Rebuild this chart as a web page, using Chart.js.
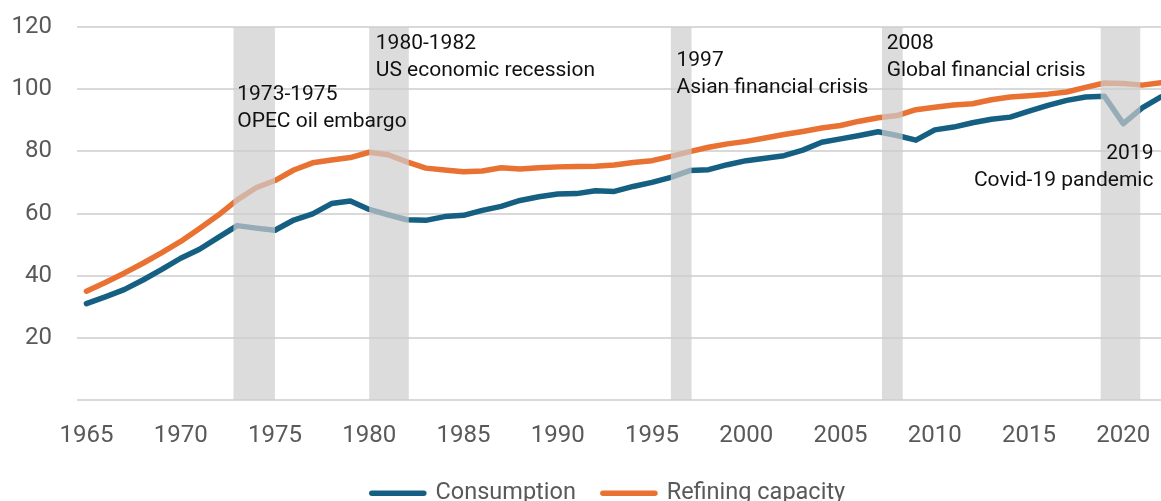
<!DOCTYPE html>
<html lang="en">
<head>
  <meta charset="UTF-8">
  <title>Oil consumption and refining capacity</title>
  <script src="https://cdn.jsdelivr.net/npm/chart.js"></script>
  <style>
    html, body {
      margin: 0;
      padding: 0;
      background: #ffffff;
      overflow: hidden;
    }
    /* a bit taller than the window: the legend is cut at the bottom like in the original */
    .chart-box {
      position: relative;
      width: 1161px;
      height: 515px;
    }
  </style>
</head>
<body>
  <div class="chart-box">
    <canvas id="oilChart"></canvas>
  </div>

  <script>
    // Data
    const years = [
      1965, 1966, 1967, 1968, 1969, 1970, 1971, 1972, 1973, 1974,
      1975, 1976, 1977, 1978, 1979, 1980, 1981, 1982, 1983, 1984,
      1985, 1986, 1987, 1988, 1989, 1990, 1991, 1992, 1993, 1994,
      1995, 1996, 1997, 1998, 1999, 2000, 2001, 2002, 2003, 2004,
      2005, 2006, 2007, 2008, 2009, 2010, 2011, 2012, 2013, 2014,
      2015, 2016, 2017, 2018, 2019, 2020, 2021, 2022
    ];
    const consumption = [
      31.0, 33.2, 35.5, 38.6, 42.0, 45.6, 48.5, 52.3, 56.1, 55.3,
      54.6, 57.9, 59.9, 63.2, 64.0, 61.3, 59.6, 58.0, 57.8, 59.0,
      59.4, 61.0, 62.3, 64.2, 65.4, 66.3, 66.4, 67.3, 67.1, 68.7,
      70.0, 71.6, 73.8, 74.1, 75.7, 77.0, 77.8, 78.6, 80.4, 82.9,
      84.0, 85.1, 86.3, 85.1, 83.6, 86.9, 87.8, 89.2, 90.3, 91.0,
      92.9, 94.8, 96.4, 97.5, 97.7, 88.9, 94.0, 97.5
    ];
    const refining = [
      35.0, 37.8, 40.8, 44.0, 47.4, 51.0, 55.2, 59.5, 64.4, 68.3,
      70.6, 74.0, 76.3, 77.2, 78.0, 79.7, 78.9, 76.6, 74.6, 74.0,
      73.4, 73.7, 74.7, 74.3, 74.7, 75.0, 75.1, 75.2, 75.6, 76.4,
      77.0, 78.4, 79.9, 81.3, 82.4, 83.2, 84.3, 85.4, 86.4, 87.5,
      88.3, 89.7, 90.8, 91.5, 93.4, 94.2, 94.9, 95.3, 96.6, 97.5,
      97.9, 98.4, 99.1, 100.6, 102.0, 101.8, 101.3, 102.1
    ];
    const xTicks = [1965, 1970, 1975, 1980, 1985, 1990, 1995, 2000, 2005, 2010, 2015, 2020];

    // shaded crisis periods (start year, end year) and their captions
    const bandStart = [1972.8, 1980.0, 1996.0, 2007.2, 2018.8];
    const bandEnd   = [1975.0, 1982.1, 1997.1, 2008.3, 2020.9];
    const bandLabels = [
      ['1973-1975', 'OPEC oil embargo'],
      ['1980-1982', 'US economic recession'],
      ['1997', 'Asian financial crisis'],
      ['2008', 'Global financial crisis'],
      ['2019', 'Covid-19 pandemic']
    ];

    const TEAL = '#156082';
    const ORANGE = '#E97132';
    const AXIS_TEXT = '#595959';
    const GRID = '#d9d9d9';

    // where each caption sits (x/y in axis units)
    const captionPos = [
      { x: 1973.0, y: 98.2, align: 'left' },
      { x: 1980.35, y: 114.6, align: 'left' },
      { x: 1996.3, y: 109.1, align: 'left' },
      { x: 2007.45, y: 114.5, align: 'left' },
      { x: 2021.6, y: 79.2, align: 'right' }
    ];

    const bandsPlugin = {
      id: 'bands',
      afterDatasetsDraw(chart) {
        const { ctx, chartArea, scales: { x, y } } = chart;
        ctx.save();
        ctx.beginPath();
        ctx.rect(chartArea.left, chartArea.top - 2, chartArea.right - chartArea.left, chartArea.bottom - chartArea.top + 2);
        ctx.clip();

        // grey bars drawn over the lines, see-through so the lines fade
        ctx.fillStyle = 'rgba(205, 205, 205, 0.7)';
        const top = y.getPixelForValue(120);
        const bottom = y.getPixelForValue(0);
        for (let i = 0; i < bandStart.length; i++) {
          const x0 = x.getPixelForValue(bandStart[i]);
          const x1 = x.getPixelForValue(bandEnd[i]);
          ctx.fillRect(x0, top, x1 - x0, bottom - top);
        }
        ctx.restore();

        // captions
        ctx.save();
        ctx.fillStyle = '#111111';
        ctx.font = '21px Roboto';
        ctx.textBaseline = 'middle';
        const lineGap = 26.5;
        bandLabels.forEach((lines, i) => {
          const pos = captionPos[i];
          ctx.textAlign = pos.align;
          const px = x.getPixelForValue(pos.x);
          const py = y.getPixelForValue(pos.y);
          lines.forEach((txt, j) => ctx.fillText(txt, px, py + j * lineGap));
        });
        ctx.restore();
      }
    };

    // nudge the legend a little to the right, like the original
    const legendShift = {
      id: 'legendShift',
      afterLayout(chart) {
        if (chart.legend) {
          chart.legend.left += 28;
          chart.legend.right += 28;
        }
      }
    };

    const ctx = document.getElementById('oilChart').getContext('2d');
    new Chart(ctx, {
      type: 'line',
      data: {
        datasets: [
          {
            label: 'Consumption',
            data: years.map((yr, i) => ({ x: yr, y: consumption[i] })),
            borderColor: TEAL,
            backgroundColor: TEAL,
            borderWidth: 5.5,
            borderCapStyle: 'round',
            borderJoinStyle: 'round',
            pointRadius: 0,
            tension: 0
          },
          {
            label: 'Refining capacity',
            data: years.map((yr, i) => ({ x: yr, y: refining[i] })),
            borderColor: ORANGE,
            backgroundColor: ORANGE,
            borderWidth: 5.5,
            borderCapStyle: 'round',
            borderJoinStyle: 'round',
            pointRadius: 0,
            tension: 0
          }
        ]
      },
      options: {
        responsive: true,
        maintainAspectRatio: false,
        animation: false,
        layout: {
          padding: { top: 27, right: 0, left: 0, bottom: 0 }
        },
        scales: {
          x: {
            type: 'linear',
            min: 1964.5,
            max: 2022,
            grid: { display: false, drawTicks: false },
            border: { display: false },
            afterBuildTicks(scale) {
              scale.ticks = xTicks.map(v => ({ value: v }));
            },
            afterFit(scale) {
              scale.height = 54.5;
              scale.paddingLeft = 0;
              scale.paddingRight = 0;
            },
            ticks: {
              autoSkip: false,
              maxRotation: 0,
              padding: 22,
              color: AXIS_TEXT,
              font: { family: 'Roboto', size: 24 },
              callback: v => String(v)
            }
          },
          y: {
            min: 0,
            max: 120,
            grid: { color: GRID, lineWidth: 2, drawTicks: false },
            border: { display: false },
            afterFit(scale) {
              scale.width = 77;
              scale.paddingTop = 0;
              scale.paddingBottom = 0;
            },
            ticks: {
              stepSize: 20,
              padding: 25,
              color: AXIS_TEXT,
              font: { family: 'Roboto', size: 24 },
              callback: v => (v === 0 ? '' : v)
            }
          }
        },
        plugins: {
          legend: {
            position: 'bottom',
            labels: {
              usePointStyle: true,
              pointStyle: 'line',
              pointStyleWidth: 52,
              boxHeight: 5.5,
              padding: 27,
              color: AXIS_TEXT,
              font: { family: 'Roboto', size: 23.5 },
              generateLabels(chart) {
                return chart.data.datasets.map((ds, i) => ({
                  text: ds.label,
                  datasetIndex: i,
                  strokeStyle: ds.borderColor,
                  fillStyle: ds.borderColor,
                  lineWidth: 5.5,
                  lineCap: 'round',
                  pointStyle: 'line',
                  fontColor: AXIS_TEXT
                }));
              }
            }
          },
          tooltip: { enabled: false }
        }
      },
      plugins: [bandsPlugin, legendShift]
    });
  </script>
</body>
</html>
